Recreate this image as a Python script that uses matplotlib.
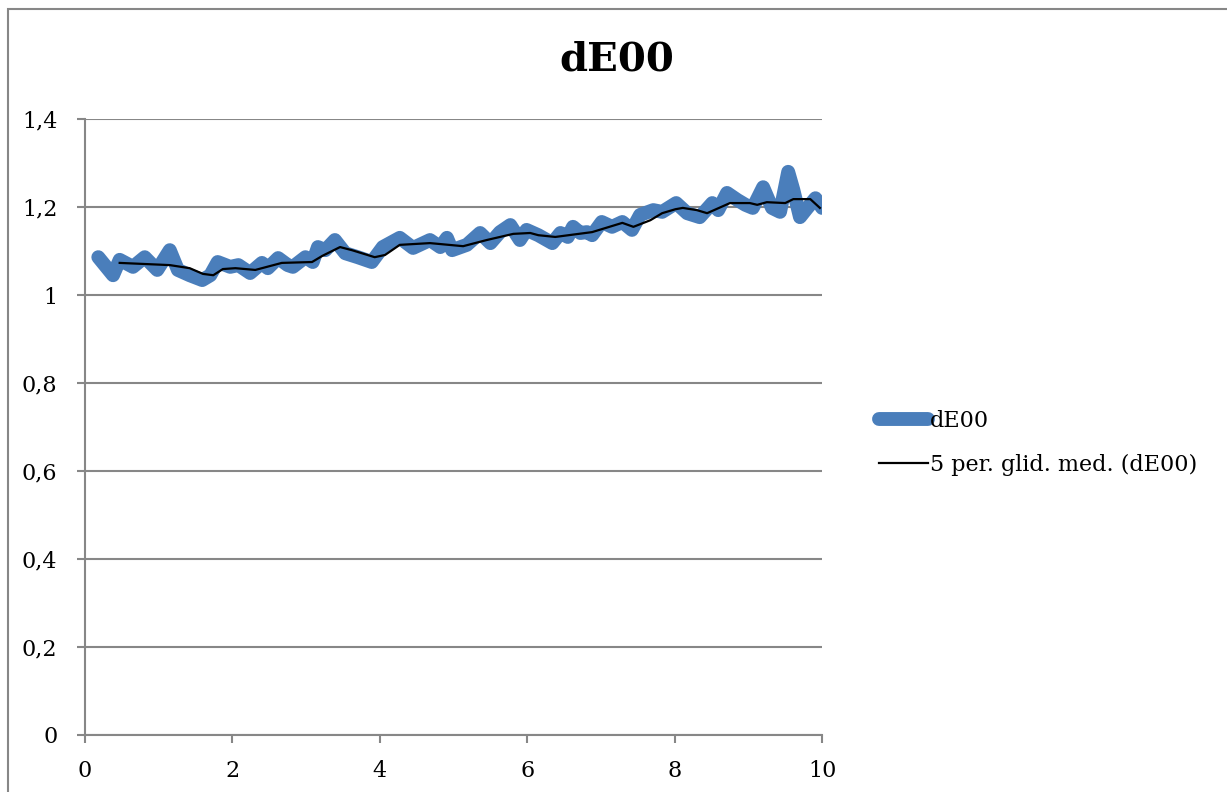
import matplotlib
matplotlib.use("Agg")
import matplotlib.pyplot as plt
from matplotlib.patches import Rectangle
from matplotlib.ticker import FuncFormatter

# dE00 mesure (lecture du graphique)
x_de = [0.18, 0.38, 0.47, 0.65, 0.81, 0.98, 1.15, 1.26, 1.42, 1.59, 1.70, 1.80, 1.97,
        2.08, 2.24, 2.40, 2.48, 2.62, 2.75, 2.82, 2.99, 3.09, 3.16, 3.26, 3.39, 3.53,
        3.70, 3.89, 4.04, 4.27, 4.45, 4.68, 4.82, 4.91, 4.98, 5.18, 5.36, 5.50, 5.63,
        5.77, 5.90, 5.99, 6.15, 6.34, 6.45, 6.55, 6.62, 6.72, 6.81, 6.88, 7.01, 7.15,
        7.29, 7.42, 7.53, 7.71, 7.83, 8.02, 8.17, 8.34, 8.51, 8.59, 8.71, 8.85, 8.96,
        9.06, 9.20, 9.32, 9.43, 9.54, 9.61, 9.70, 9.80, 9.91, 10.0]
y_de = [1.086, 1.045, 1.080, 1.064, 1.086, 1.057, 1.102, 1.057, 1.045, 1.034, 1.045, 1.075, 1.064,
        1.068, 1.050, 1.073, 1.061, 1.084, 1.068, 1.064, 1.086, 1.075, 1.109, 1.102, 1.125, 1.095,
        1.086, 1.075, 1.109, 1.130, 1.107, 1.125, 1.109, 1.130, 1.102, 1.114, 1.141, 1.118, 1.143,
        1.159, 1.125, 1.148, 1.136, 1.118, 1.141, 1.132, 1.155, 1.141, 1.143, 1.136, 1.166, 1.155,
        1.166, 1.148, 1.182, 1.193, 1.189, 1.209, 1.186, 1.177, 1.209, 1.193, 1.232, 1.216, 1.205,
        1.198, 1.245, 1.198, 1.189, 1.280, 1.239, 1.177, 1.198, 1.220, 1.198]

# moyenne glissante 5 periodes (lecture du graphique)
x_mm = [0.47, 1.15, 1.42, 1.60, 1.74, 1.87, 2.04, 2.31, 2.67, 3.08, 3.22, 3.46, 3.62, 3.93,
        4.07, 4.27, 4.68, 5.13, 5.45, 5.81, 6.04, 6.15, 6.38, 6.88, 7.29, 7.44, 7.67, 7.83,
        8.01, 8.11, 8.30, 8.44, 8.75, 9.02, 9.12, 9.25, 9.50, 9.61, 9.84, 9.97]
y_mm = [1.073, 1.068, 1.061, 1.048, 1.045, 1.059, 1.061, 1.057, 1.073, 1.075, 1.089, 1.109, 1.102, 1.086,
        1.091, 1.114, 1.118, 1.111, 1.125, 1.139, 1.141, 1.136, 1.132, 1.143, 1.164, 1.155, 1.170, 1.186,
        1.195, 1.198, 1.193, 1.186, 1.209, 1.209, 1.205, 1.211, 1.209, 1.218, 1.218, 1.198]

plt.rcParams['font.family'] = ['DejaVu Serif']
gris = '#878787'

fig = plt.figure(figsize=(12.27, 7.92), dpi=100)
ax = fig.add_axes([0.0693, 0.072, 0.6007, 0.7777])

ax.plot(x_de, y_de, color='#4a7ebb', lw=10, solid_capstyle='round',
        solid_joinstyle='round', label='dE00', zorder=3)
ax.plot(x_mm, y_mm, color='black', lw=1.6, label='5 per. glid. med. (dE00)', zorder=4)

ax.set_xlim(0, 10)
ax.set_ylim(0, 1.4)
ax.set_xticks([0, 2, 4, 6, 8, 10])
ax.set_yticks([0, 0.2, 0.4, 0.6, 0.8, 1.0, 1.2, 1.4])
ax.yaxis.set_major_formatter(FuncFormatter(lambda v, p: ('%g' % round(v, 1)).replace('.', ',')))
ax.grid(True, axis='y', color=gris, lw=1.5)
ax.set_axisbelow(True)
for s in ['top', 'right']:
    ax.spines[s].set_visible(False)
for s in ['left', 'bottom']:
    ax.spines[s].set_color(gris)
    ax.spines[s].set_linewidth(1.5)
ax.tick_params(colors=gris, width=1.5, length=6, labelcolor='black', labelsize=16, pad=12)
ax.tick_params(axis='y', pad=14)

fig.text(0.503, 0.925, 'dE00', ha='center', va='center', fontsize=29, fontweight='bold')

leg = fig.legend(loc='center left', bbox_to_anchor=(0.7, 0.441), frameon=False,
                 fontsize=16, handlelength=2.2, handletextpad=0.1, labelspacing=1.0)

fig.add_artist(Rectangle((8 / 1227, -0.05), 1.2, 0.05 + (792 - 9) / 792,
                         transform=fig.transFigure, fill=False, ec=gris, lw=1.5))

fig.savefig('out.png', dpi=100)
